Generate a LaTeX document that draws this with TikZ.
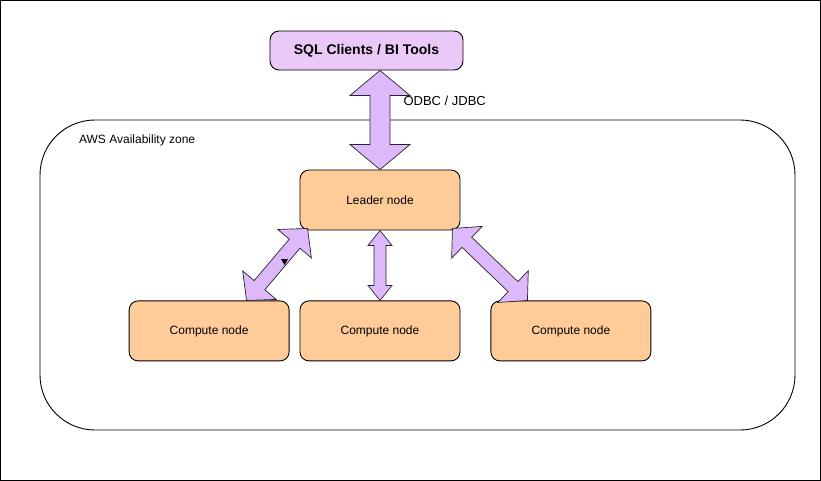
\documentclass[tikz,border=0pt]{standalone}
\usepackage{fontspec}
\setmainfont{Liberation Sans}
\usetikzlibrary{positioning,calc}
\definecolor{nodeorange}{HTML}{FFCC99}
\definecolor{clientpurple}{HTML}{EAC9F9}
\definecolor{arrowpurple}{HTML}{DDB9FB}
\tikzset{
every node/.style={font=\fontsize{12}{14}\selectfont},
box/.style={draw,rectangle,rounded corners=9pt,line width=0.9pt,minimum width=160pt,minimum height=60pt,fill=nodeorange,inner sep=0pt},
client/.style={box,fill=clientpurple,minimum width=193pt,minimum height=39pt,font=\bfseries\fontsize{14}{16}\selectfont},
zone/.style={draw,rectangle,rounded corners=55pt,line width=0.9pt,minimum width=755pt,minimum height=310pt},
fatarrow/.style={draw=black!85,fill=arrowpurple,line width=0.7pt,line join=miter}
}

% from, to, head length, head half width, shaft half width
\newcommand{\fatarrow}[5]{%
  \coordinate (fa-p) at ($(#1)!#3!(#2)$);
  \coordinate (fa-q) at ($(#2)!#3!(#1)$);
  \draw[fatarrow] (#1) -- ($(fa-p)!#4!90:(#2)$) -- ($(fa-p)!#5!90:(#2)$)
    -- ($(fa-q)!#5!90:(#2)$) -- ($(fa-q)!#4!90:(#2)$) -- (#2)
    -- ($(fa-q)!#4!-90:(#2)$) -- ($(fa-q)!#5!-90:(#2)$)
    -- ($(fa-p)!#5!-90:(#2)$) -- ($(fa-p)!#4!-90:(#2)$) -- cycle;}

\begin{document}
\begin{tikzpicture}[x=1pt,y=-1pt]
\useasboundingbox (0,0) rectangle (821,481);
\draw[line width=1pt] (0.5,0.5) rectangle (820.5,480.5);

\node[zone]   (zone)   at (417.5,275) {};
\node[anchor=west] (zonelabel) at ($(zone.north west)+(36,21)$) {AWS Availability zone};

\node[client] (sql)    at (366.5,50.5)        {SQL Clients / BI Tools};
\node[box]    (leader) at (380,200)           {Leader node};
\node[box]    (cmid)   [below=70pt of leader] {Compute node};
\node[box]    (cleft)  [left=10pt of cmid]    {Compute node};
\node[box]    (cright) [right=30pt of cmid]   {Compute node};

\coordinate (sqlport) at (leader.north |- sql.south);
\coordinate (lport)   at ($(leader.south west)+(8,-2)$);
\coordinate (rport)   at ($(leader.south east)+(-8,-2)$);
\coordinate (clport)  at ($(cleft.north east)+(-43,0)$);
\coordinate (crport)  at ($(cright.north west)+(37,0)$);

\fatarrow{sqlport}{leader.north}{25pt}{30pt}{10pt}
\fatarrow{leader.south}{cmid.north}{15pt}{12pt}{6pt}
\fatarrow{clport}{lport}{20pt}{22pt}{7pt}
\fatarrow{rport}{crport}{20pt}{22pt}{7pt}
\fill (281,259) -- (288,259) -- (284.5,265) -- cycle;

\node[anchor=west,font=\fontsize{13}{15}\selectfont] (odbc) at (400,101) {ODBC / JDBC};
\end{tikzpicture}
\end{document}
